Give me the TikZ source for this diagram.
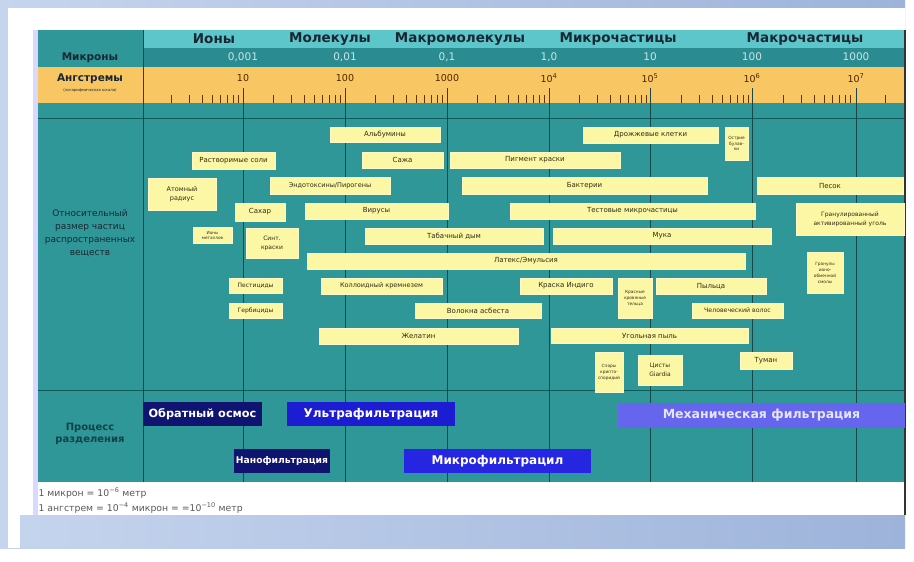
\documentclass[tikz,border=0pt]{standalone}
\usepackage{fontspec}
\setmainfont{DejaVu Sans}
\usepackage{tikz}
\definecolor{frameblue}{HTML}{C6D5EE}
\definecolor{frameblue2}{HTML}{9DB3DA}
\definecolor{tealbody}{HTML}{2F9797}
\definecolor{tealdark}{HTML}{2A8C90}
\definecolor{cyanhead}{HTML}{5CC6CA}
\definecolor{orangeband}{HTML}{F8C662}
\definecolor{gridline}{HTML}{174848}
\definecolor{boxyellow}{HTML}{FCF7A4}
\definecolor{boxtext}{HTML}{2E2C18}
\definecolor{headtext}{HTML}{1B2633}
\definecolor{navybox}{HTML}{0E1470}
\definecolor{bluebox}{HTML}{1C1CD2}
\definecolor{bluebox2}{HTML}{2626E2}
\definecolor{violetbox}{HTML}{6565EE}

\begin{document}
\begin{tikzpicture}[x=1pt, y=-1pt,
    item/.style = {draw=boxyellow!60!white, line width=0.8pt, fill=boxyellow, inner sep=0pt,
                   text=boxtext, align=center, font=\fontsize{7}{8}\selectfont},
    sz/.style 2 args = {minimum width=#1pt, minimum height=#2pt},
    proc/.style = {inner sep=0pt, text=white, font=\bfseries\fontsize{12}{13}\selectfont},
    head/.style = {text=headtext, font=\bfseries\fontsize{13.5}{15}\selectfont},
    side/.style = {text=headtext, align=center},
    mic/.style = {text=white!80!teal, font=\fontsize{10.5}{11}\selectfont},
    ang/.style = {text=black!70!orange, font=\fontsize{9.5}{10}\selectfont}]

    \useasboundingbox (0,0) rectangle (914,562);
    \shade[left color=frameblue, right color=frameblue2] (0,0) rectangle (905,548);
    \fill[white] (8,8) rectangle (905,515);
    \fill[white] (8,515) rectangle (20,548);
    \fill[blue!15!white] (33,30) rectangle (38,515);

    % bands of the table
    \fill[tealbody] (38,30) rectangle (905,482);
    \fill[cyanhead] (143,30) rectangle (905,48);
    \fill[tealdark] (143,48) rectangle (905,67);
    \fill[orangeband] (38,67) rectangle (905,103);
    \draw[gridline!70!teal, line width=0.8pt] (38,118) -- (905,118);
    \draw[gridline!70!teal, line width=1pt] (38,390) -- (905,390);
    \draw[gridline, line width=0.8pt] (143,30) -- (143,482);
    \draw[black!80, line width=1.2pt] (905,30) -- (905,515);

    % log scale
    \foreach \d in {0,...,7} {
        \foreach \k in {2,...,9} {
            \pgfmathsetmacro{\tx}{141+102*\d+102*log10(\k)}
            \ifdim \tx pt < 903pt
                \draw[black!60!orange, line width=0.5pt] (\tx,95) -- (\tx,103);
            \fi
        }
    }
    \foreach \x in {243,345,447,549,650,752,856}
        \draw[gridline, line width=0.8pt] (\x,88) -- (\x,482);

    % headings
    \node[head] (ions) at (214,39) {Ионы};
    \node[head] (mol) at (330,39) {Молекулы};
    \node[head] (macmol) at (460,39) {Макромолекулы};
    \node[head] (micp) at (618,39) {Микрочастицы};
    \node[head] (macp) at (805,39) {Макрочастицы};

    \node[side, font=\bfseries\fontsize{10.5}{11}\selectfont] (microns) at (90,58) {Микроны};
    \node[side, font=\bfseries\fontsize{10.5}{11}\selectfont] (angs) at (90,79) {Ангстремы};
    \node[side, font=\fontsize{3.8}{4}\selectfont] (logsc) at (90,90) {(логарифмическая шкала)};

    \node[mic] (m1) at (243,57) {0,001};
    \node[mic] (m2) at (345,57) {0,01};
    \node[mic] (m3) at (447,57) {0,1};
    \node[mic] (m4) at (549,57) {1,0};
    \node[mic] (m5) at (650,57) {10};
    \node[mic] (m6) at (752,57) {100};
    \node[mic] (m7) at (856,57) {1000};

    \node[ang] (a1) at (243,78) {10};
    \node[ang] (a2) at (345,78) {100};
    \node[ang] (a3) at (447,78) {1000};
    \node[ang] (a4) at (549,78) {10\textsuperscript{4}};
    \node[ang] (a5) at (650,78) {10\textsuperscript{5}};
    \node[ang] (a6) at (752,78) {10\textsuperscript{6}};
    \node[ang] (a7) at (856,78) {10\textsuperscript{7}};

    \node[side, font=\fontsize{9}{13}\selectfont] (rel) at (90,233)
        {Относительный\\размер частиц\\распространенных\\веществ};
    \node[side, text=headtext!70!teal, font=\bfseries\fontsize{10}{11.5}\selectfont] (sep) at (90,434)
        {Процесс\\разделения};

    % substances
    \node[item, sz={110}{15}] (alb) at (385,134.5) {Альбумины};
    \node[item, sz={135}{16}] (yeast) at (650.5,135) {Дрожжевые клетки};
    \node[item, sz={23}{33}, font=\fontsize{4.3}{5.5}\selectfont] (pin) at (736.5,143.5) {Острие\\булав-\\ки};
    \node[item, sz={83}{17}] (salt) at (233.5,161) {Растворимые соли};
    \node[item, sz={81}{16}] (soot) at (402.5,160) {Сажа};
    \node[item, sz={170}{16}] (paint) at (535,160) {Пигмент краски};
    \node[item, sz={68}{32}, font=\fontsize{6.5}{9}\selectfont] (atom) at (182,194) {Атомный\\радиус};
    \node[item, sz={120}{17}, font=\fontsize{6.5}{8}\selectfont] (endo) at (330,185.5) {Эндотоксины/Пирогены};
    \node[item, sz={245}{17}] (bact) at (584.5,185.5) {Бактерии};
    \node[item, sz={146}{17}] (sand) at (830,185.5) {Песок};
    \node[item, sz={50}{18}] (sugar) at (260,212) {Сахар};
    \node[item, sz={143}{16}] (virus) at (376.5,211) {Вирусы};
    \node[item, sz={245}{16}] (test) at (632.5,211) {Тестовые микрочастицы};
    \node[item, sz={108}{32}, font=\fontsize{6}{9}\selectfont] (gac) at (850,219) {Гранулированный\\активированный уголь};
    \node[item, sz={39}{16}, font=\fontsize{4.2}{5}\selectfont] (metal) at (212.5,235) {Ионы\\металлов};
    \node[item, sz={52}{30}, font=\fontsize{6}{9}\selectfont] (dye) at (272,243) {Синт.\\краски};
    \node[item, sz={178}{16}] (smoke) at (454,236) {Табачный дым};
    \node[item, sz={218}{16}] (flour) at (662,236) {Мука};
    \node[item, sz={438}{16}] (latex) at (526,261) {Латекс/Эмульсия};
    \node[item, sz={36}{41}, font=\fontsize{4.3}{6}\selectfont] (resin) at (825,272.5) {Гранулы\\ионо-\\обменной\\смолы};
    \node[item, sz={53}{15}, font=\fontsize{6}{7}\selectfont] (pest) at (255.5,285.5) {Пестициды};
    \node[item, sz={121}{16}, font=\fontsize{6.5}{8}\selectfont] (silica) at (381.5,286) {Коллоидный кремнезем};
    \node[item, sz={92}{16}] (indigo) at (566,286) {Краска Индиго};
    \node[item, sz={34}{40}, font=\fontsize{4.3}{6}\selectfont] (rbc) at (635,298) {Красные\\кровяные\\тельца};
    \node[item, sz={110}{16}] (pollen) at (711,286) {Пыльца};
    \node[item, sz={53}{15}, font=\fontsize{6}{7}\selectfont] (herb) at (255.5,310.5) {Гербициды};
    \node[item, sz={126}{15}] (asb) at (478,310.5) {Волокна асбеста};
    \node[item, sz={91}{15}, font=\fontsize{6.2}{7}\selectfont] (hair) at (737.5,310.5) {Человеческий волос};
    \node[item, sz={199}{16}] (gel) at (418.5,336) {Желатин};
    \node[item, sz={197}{15}] (coal) at (649.5,335.5) {Угольная пыль};
    \node[item, sz={28}{40}, font=\fontsize{4.3}{6}\selectfont] (crypto) at (609,372) {Споры\\крипто-\\споридий};
    \node[item, sz={44}{30}, font=\fontsize{6}{9}\selectfont] (giardia) at (660,370) {Цисты\\Giardia};
    \node[item, sz={52}{17}] (mist) at (766,360.5) {Туман};

    % separation processes
    \node[proc, fill=navybox, sz={119}{24}, font=\bfseries\fontsize{11.3}{12}\selectfont] (ro) at (202.5,414) {Обратный осмос};
    \node[proc, fill=bluebox, sz={168}{24}] (uf) at (371,414) {Ультрафильтрация};
    \node[proc, fill=violetbox, sz={287}{25}, text=blue!10!white, font=\bfseries\fontsize{12.5}{13}\selectfont] (mech) at (761.5,415.5) {Механическая фильтрация};
    \node[proc, fill=navybox, sz={96}{24}, font=\bfseries\fontsize{9.2}{10}\selectfont] (nf) at (282,461) {Нанофильтрация};
    \node[proc, fill=bluebox2, sz={187}{24}] (mf) at (497.5,461) {Микрофильтрацил};

    % footnote
    \fill[white] (38,482) rectangle (904,515);
    \node[anchor=west, text=black!65, font=\fontsize{9.3}{10}\selectfont] (fn1) at (35,493) {1 микрон = 10\textsuperscript{−6} метр};
    \node[anchor=west, text=black!65, font=\fontsize{9.3}{10}\selectfont] (fn2) at (35,508) {1 ангстрем = 10\textsuperscript{−4} микрон = =10\textsuperscript{−10} метр};
\end{tikzpicture}
\end{document}
